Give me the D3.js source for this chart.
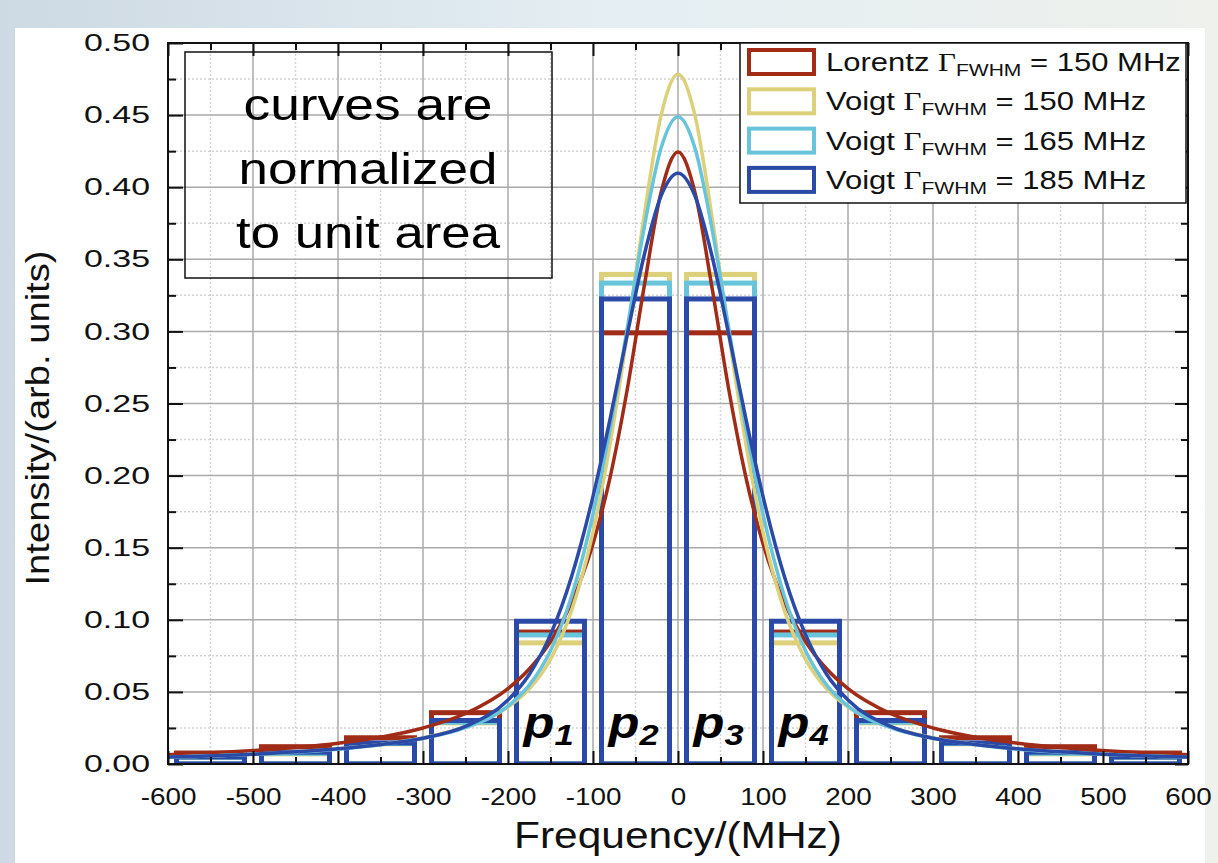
<!DOCTYPE html>
<html>
<head>
<meta charset="utf-8">
<script src="https://cdn.jsdelivr.net/npm/d3@7"></script>
<style>
  body { margin: 0; background: #fff; }
  svg text { font-family: "Liberation Sans", Arial, sans-serif; }
</style>
</head>
<body>
<svg id="chart" width="1218" height="863"></svg>
<script>
// frequency grid of the sampled curves (MHz)
const freqs = [-600,-500,-400,-350,-300,-250,-200,-175,-150,-125,-100,-80,-60,-40,-20,0,20,40,60,80,100,125,150,175,200,250,300,350,400,500,600];

const lorentz150 = [0.0065,0.0093,0.0144,0.0186,0.0250,0.0350,0.0523,0.0659,0.0849,0.1123,0.1528,0.1985,0.2588,0.3304,0.3962,0.4244,0.3962,0.3304,0.2588,0.1985,0.1528,0.1123,0.0849,0.0659,0.0523,0.0350,0.0250,0.0186,0.0144,0.0093,0.0065];
const voigt150 = [0.0048,0.0068,0.0106,0.0136,0.0183,0.0258,0.0395,0.0521,0.0726,0.1067,0.1608,0.2215,0.2970,0.3795,0.4496,0.4783,0.4496,0.3795,0.2970,0.2215,0.1608,0.1067,0.0726,0.0521,0.0395,0.0258,0.0183,0.0136,0.0106,0.0068,0.0048];
const voigt165 = [0.0047,0.0067,0.0103,0.0133,0.0178,0.0252,0.0401,0.0547,0.0786,0.1167,0.1732,0.2325,0.3012,0.3713,0.4270,0.4489,0.4270,0.3713,0.3012,0.2325,0.1732,0.1167,0.0786,0.0547,0.0401,0.0252,0.0178,0.0133,0.0103,0.0067,0.0047];
const voigt185 = [0.0048,0.0068,0.0105,0.0135,0.0179,0.0261,0.0444,0.0621,0.0897,0.1304,0.1856,0.2390,0.2970,0.3523,0.3938,0.4096,0.3938,0.3523,0.2970,0.2390,0.1856,0.1304,0.0897,0.0621,0.0444,0.0261,0.0179,0.0135,0.0105,0.0068,0.0048];

// 100 MHz bins (centres) and their bin values
const binCenters = [-550,-450,-350,-250,-150,-50,50,150,250,350,450,550];
const binLorentz150 = [0.0076,0.0120,0.0182,0.0356,0.0915,0.2990,0.2990,0.0915,0.0356,0.0182,0.0120,0.0076];
const binVoigt150 = [0.0046,0.0070,0.0140,0.0285,0.0840,0.3395,0.3395,0.0840,0.0285,0.0140,0.0070,0.0046];
const binVoigt165 = [0.0047,0.0074,0.0142,0.0290,0.0895,0.3335,0.3335,0.0895,0.0290,0.0142,0.0074,0.0047];
const binVoigt185 = [0.0049,0.0082,0.0146,0.0302,0.0990,0.3225,0.3225,0.0990,0.0302,0.0146,0.0082,0.0049];

const seriesNames = ["Lorentz ", "Voigt ", "Voigt ", "Voigt "];
const seriesWidths = ["150", "150", "165", "185"];
const seriesColors = ["#a02c18", "#ddd07a", "#68c4da", "#2b4aa8"];

const xTicks = [-600,-500,-400,-300,-200,-100,0,100,200,300,400,500,600];
const yTicks = [0,0.05,0.10,0.15,0.20,0.25,0.30,0.35,0.40,0.45,0.50];
const binLabels = ["1", "2", "3", "4"];
const binLabelCenters = [-150, -50, 50, 150];

const curves = [lorentz150, voigt150, voigt165, voigt185];
const bins = [binLorentz150, binVoigt150, binVoigt165, binVoigt185];

const svg = d3.select("#chart");
const x = d3.scaleLinear().domain([-600, 600]).range([168, 1188]);
const y = d3.scaleLinear().domain([0, 0.5]).range([764, 43]);

// slide background + white panel
const defs = svg.append("defs");
const grad = defs.append("linearGradient").attr("id", "bg").attr("x1", 0).attr("x2", 1).attr("y1", 0).attr("y2", 0);
grad.append("stop").attr("offset", "0%").attr("stop-color", "#cdd9e3");
grad.append("stop").attr("offset", "50%").attr("stop-color", "#e4eef3");
grad.append("stop").attr("offset", "100%").attr("stop-color", "#eef1ec");
defs.append("clipPath").attr("id", "plotclip").append("rect")
  .attr("x", x(-600)).attr("y", y(0.5)).attr("width", x(600) - x(-600)).attr("height", y(0) - y(0.5));

svg.append("rect").attr("width", 1218).attr("height", 863).attr("fill", "url(#bg)");
svg.append("rect").attr("x", 15).attr("y", 28).attr("width", 1190).attr("height", 835).attr("fill", "#fff");

// grid
const xMinor = xTicks.slice(1).map(d => d - 50);
const yMinor = yTicks.slice(1).map(d => d - 0.025);
const grid = svg.append("g");
grid.selectAll(".gxm").data(xMinor).enter().append("line")
  .attr("x1", d => x(d)).attr("x2", d => x(d)).attr("y1", y(0)).attr("y2", y(0.5))
  .attr("stroke", "#d2d2d2").attr("stroke-width", 1.5).attr("stroke-dasharray", "2,2");
grid.selectAll(".gym").data(yMinor).enter().append("line")
  .attr("x1", x(-600)).attr("x2", x(600)).attr("y1", d => y(d)).attr("y2", d => y(d))
  .attr("stroke", "#d2d2d2").attr("stroke-width", 1.5).attr("stroke-dasharray", "2,2");
grid.selectAll(".gx").data(xTicks).enter().append("line")
  .attr("x1", d => x(d)).attr("x2", d => x(d)).attr("y1", y(0)).attr("y2", y(0.5))
  .attr("stroke", "#aaaaaa").attr("stroke-width", 1.5);
grid.selectAll(".gy").data(yTicks).enter().append("line")
  .attr("x1", x(-600)).attr("x2", x(600)).attr("y1", d => y(d)).attr("y2", d => y(d))
  .attr("stroke", "#aaaaaa").attr("stroke-width", 1.5);

// note box
svg.append("rect").attr("x", 185).attr("y", 52).attr("width", 367).attr("height", 226)
  .attr("fill", "none").attr("stroke", "#111").attr("stroke-width", 1.5);
const noteLines = ["curves are", "normalized", "to unit area"];
const noteLens = [249, 259, 264];
svg.selectAll(".note").data(noteLines).enter().append("text")
  .attr("x", 368).attr("y", (d, i) => 120 + i * 64)
  .attr("text-anchor", "middle").attr("font-size", 44).attr("fill", "#000")
  .attr("textLength", (d, i) => noteLens[i]).attr("lengthAdjust", "spacingAndGlyphs")
  .text(d => d);

// bin boxes
const plot = svg.append("g").attr("clip-path", "url(#plotclip)");
bins.forEach((vals, i) => {
  plot.append("g").selectAll("rect")
    .data(binCenters.map((c, j) => ({ c: c, v: vals[j] })))
    .enter().append("rect")
    .attr("x", d => x(d.c - 40))
    .attr("width", d => x(d.c + 40) - x(d.c - 40))
    .attr("y", d => y(d.v))
    .attr("height", d => y(0) - y(d.v))
    .attr("fill", "none")
    .attr("stroke", seriesColors[i])
    .attr("stroke-width", 5);
});

// curves
const line = d3.line()
  .x((d, j) => x(freqs[j]))
  .y(d => y(d))
  .curve(d3.curveMonotoneX);
curves.forEach((vals, i) => {
  plot.append("path")
    .attr("d", line(vals))
    .attr("fill", "none")
    .attr("stroke", seriesColors[i])
    .attr("stroke-width", 3.5);
});

// p labels
binLabelCenters.forEach((c, i) => {
  const t = svg.append("g").attr("transform", `translate(${x(c) - 27},738) scale(1.15,1)`)
    .append("text").attr("font-weight", "bold").attr("font-style", "italic").attr("fill", "#000");
  t.append("tspan").attr("font-size", 44).text("p");
  t.append("tspan").attr("font-size", 30).attr("dy", 7).text(binLabels[i]);
});

// frame
svg.append("rect").attr("x", x(-600)).attr("y", y(0.5))
  .attr("width", x(600) - x(-600)).attr("height", y(0) - y(0.5))
  .attr("fill", "none").attr("stroke", "#111").attr("stroke-width", 2);

function styleAxis(g) {
  g.select(".domain").remove();
  g.selectAll(".tick line").attr("stroke", "#111").attr("stroke-width", 2);
  g.attr("font-family", null).attr("font-size", 24);
  g.selectAll("text").attr("fill", "#111");
}

// bottom axis with labels
const xAxisG = svg.append("g").attr("transform", `translate(0,${y(0)})`)
  .call(d3.axisBottom(x).tickValues(xTicks).tickSize(-13).tickPadding(24).tickFormat(d => String(d)))
  .call(styleAxis);
xAxisG.selectAll("text").each(function () {
  const w = this.getComputedTextLength();
  d3.select(this).attr("textLength", w * 1.16).attr("lengthAdjust", "spacingAndGlyphs");
});
svg.append("g").attr("transform", `translate(0,${y(0)})`)
  .call(d3.axisBottom(x).tickValues(xMinor).tickSize(-7).tickFormat(""))
  .call(styleAxis);

// top axis ticks
svg.append("g").attr("transform", `translate(0,${y(0.5)})`)
  .call(d3.axisTop(x).tickValues(xTicks).tickSize(-13).tickFormat(""))
  .call(styleAxis);
svg.append("g").attr("transform", `translate(0,${y(0.5)})`)
  .call(d3.axisTop(x).tickValues(xMinor).tickSize(-7).tickFormat(""))
  .call(styleAxis);

// left axis with labels
svg.append("g").attr("transform", `translate(${x(-600)},0)`)
  .call(d3.axisLeft(y).tickValues(yTicks).tickSize(-15).tickPadding(18).tickFormat(d => d.toFixed(2)))
  .call(styleAxis)
  .selectAll("text").attr("textLength", 66).attr("lengthAdjust", "spacingAndGlyphs");
svg.append("g").attr("transform", `translate(${x(-600)},0)`)
  .call(d3.axisLeft(y).tickValues(yMinor).tickSize(-8).tickFormat(""))
  .call(styleAxis);

// right axis ticks
svg.append("g").attr("transform", `translate(${x(600)},0)`)
  .call(d3.axisRight(y).tickValues(yTicks).tickSize(-13).tickFormat(""))
  .call(styleAxis);
svg.append("g").attr("transform", `translate(${x(600)},0)`)
  .call(d3.axisRight(y).tickValues(yMinor).tickSize(-7).tickFormat(""))
  .call(styleAxis);

// axis titles
svg.append("text").attr("x", x(0)).attr("y", 848).attr("text-anchor", "middle")
  .attr("font-size", 37).attr("fill", "#111")
  .attr("textLength", 328).attr("lengthAdjust", "spacingAndGlyphs")
  .text("Frequency/(MHz)");
svg.append("text").attr("transform", "translate(49,418) rotate(-90)").attr("text-anchor", "middle")
  .attr("font-size", 34).attr("fill", "#111")
  .attr("textLength", 335).attr("lengthAdjust", "spacingAndGlyphs")
  .text("Intensity/(arb. units)");

// legend
const legend = svg.append("g");
legend.append("rect").attr("x", 740).attr("y", 43).attr("width", 446).attr("height", 160)
  .attr("fill", "#fff").attr("stroke", "#111").attr("stroke-width", 1.5);
seriesNames.forEach((name, i) => {
  const cy = 62 + i * 39.3;
  legend.append("rect").attr("x", 749).attr("y", cy - 12).attr("width", 65).attr("height", 24)
    .attr("fill", "#fff").attr("stroke", seriesColors[i]).attr("stroke-width", 4);
  const t = legend.append("g").attr("transform", `translate(826,${cy + 9}) scale(1.24,1)`)
    .append("text").attr("font-size", 25).attr("fill", "#111");
  t.append("tspan").text(name);
  t.append("tspan").attr("font-family", "Liberation Serif, serif").text("\u0393");
  t.append("tspan").attr("font-size", 17).attr("dy", 5).text("FWHM");
  t.append("tspan").attr("dy", -5).text(" = " + seriesWidths[i] + " MHz");
});
</script>
</body>
</html>
